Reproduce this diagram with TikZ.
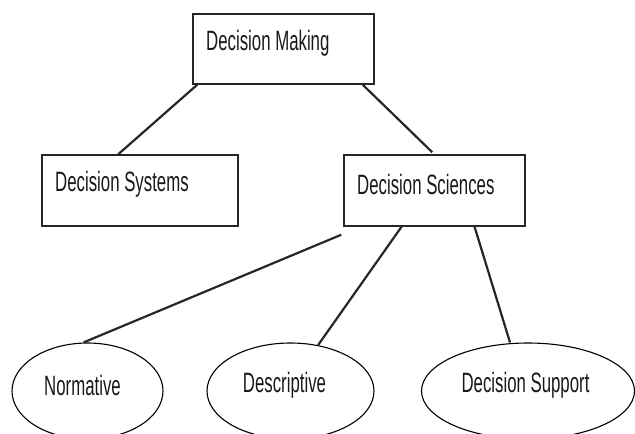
\documentclass[tikz,border=0pt]{standalone}
\usepackage{fontspec}
\setmainfont[FakeStretch=0.6]{Liberation Sans}
\usetikzlibrary{shapes.geometric,calc}
\begin{document}
\begin{tikzpicture}[x=1pt,y=-1pt,
  box/.style={draw=black!85, line width=1.5pt, rectangle, inner sep=0pt},
  oval/.style={draw=black, line width=1.1pt, ellipse, inner sep=0pt, minimum height=96pt},
  lbl/.style={inner sep=0pt, font=\fontsize{28}{30}\selectfont, text=black!90},
  link/.style={draw=black!85, line width=2.2pt}]
\clip (0,0) rectangle (635,434);
\useasboundingbox (0,0) rectangle (635,434);
% boxes
\node[box, minimum width=181pt, minimum height=70pt] (dm) at (283.5,49) {};
\node[box, minimum width=196pt, minimum height=71pt] (dsys) at (140,190.5) {};
\node[box, minimum width=181pt, minimum height=71pt] (dsci) at (434.5,190.5) {};
% ellipses
\node[oval, minimum width=151pt] (norm) at (87.5,391) {};
\node[oval, minimum width=167pt] (desc) at (290.5,391) {};
\node[oval, minimum width=213pt] (supp) at (528,391) {};
% texts
\node[lbl, anchor=west] (tdm) at (206,43) {Decision Making};
\node[lbl, anchor=west] (tdsys) at (55,184) {Decision Systems};
\node[lbl, anchor=west] (tdsci) at (357,184) {Decision Sciences};
\node[lbl] (tnorm) at (82.5,385) {Normative};
\node[lbl] (tdesc) at (284.5,385) {Descriptive};
\node[lbl] (tsupp) at (525.5,385) {Decision Support};
% connectors
\draw[link] ([xshift=5pt]dm.south west) -- ([xshift=77pt]dsys.north west);
\draw[link] ([xshift=-12pt]dm.south east) -- ([xshift=89pt,yshift=2pt]dsci.north west);
\draw[link] ([xshift=-2pt,yshift=-8pt]dsci.south west) -- ([xshift=-4pt]norm.north);
\draw[link] ([xshift=59pt,yshift=1pt]dsci.south west) -- (desc.59);
\draw[link] ([xshift=131pt,yshift=1pt]dsci.south west) -- ([xshift=-18pt]supp.north);
\end{tikzpicture}
\end{document}
